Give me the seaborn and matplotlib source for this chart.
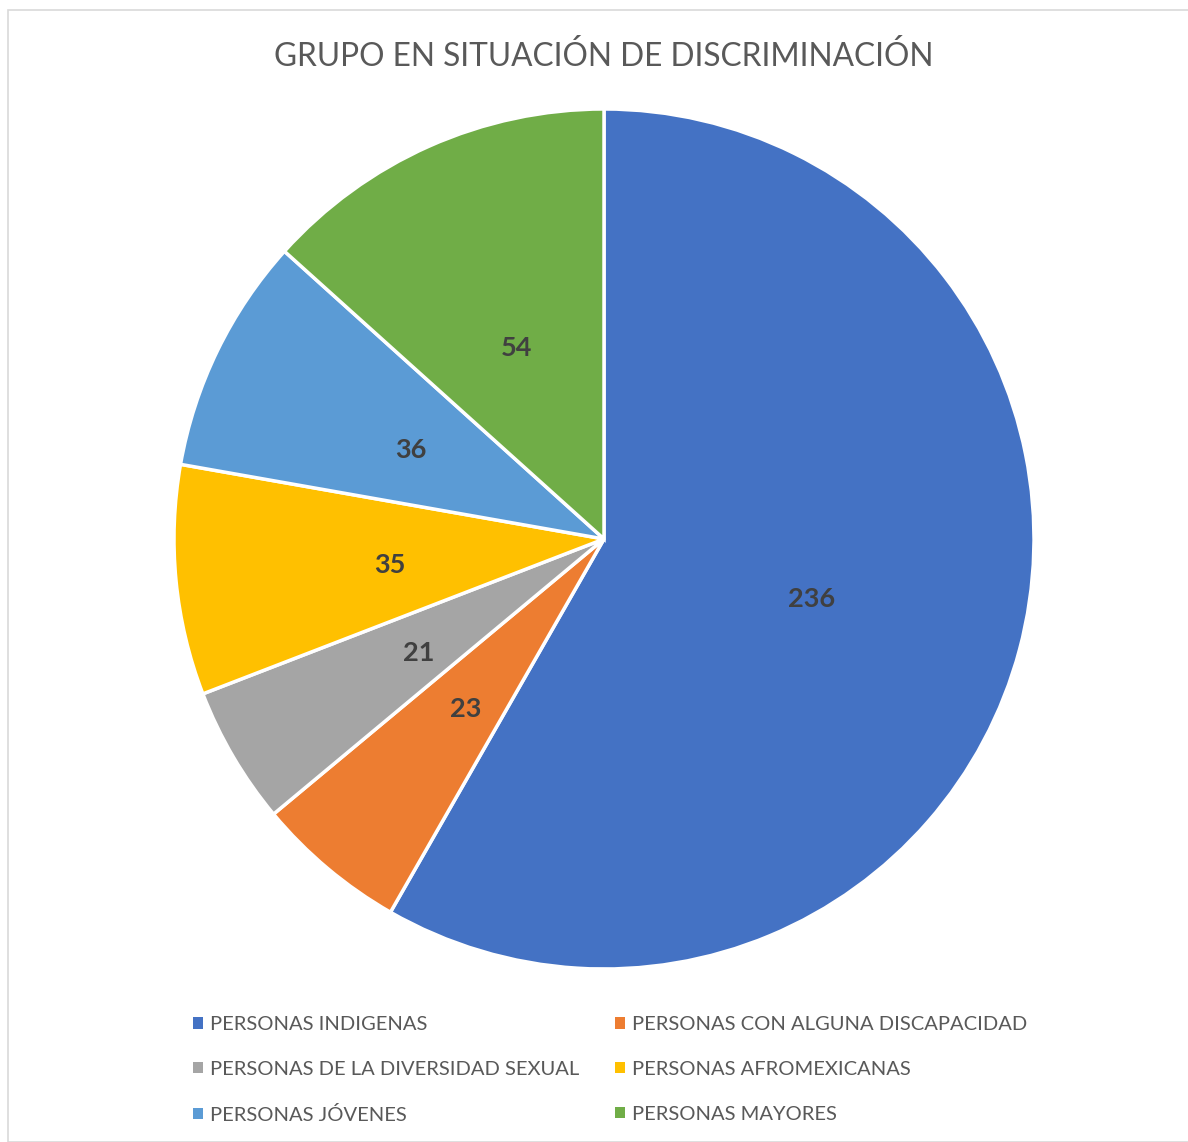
import matplotlib
matplotlib.use("Agg")
import matplotlib.pyplot as plt
import seaborn as sns
from matplotlib.patches import Rectangle, Patch
from matplotlib.transforms import offset_copy

categories = ["PERSONAS INDIGENAS", "PERSONAS CON ALGUNA DISCAPACIDAD",
              "PERSONAS DE LA DIVERSIDAD SEXUAL", "PERSONAS AFROMEXICANAS",
              "PERSONAS JÓVENES", "PERSONAS MAYORES"]
values = [236, 23, 21, 35, 36, 54]
colors = ["#4472C4", "#ED7D31", "#A5A5A5", "#FFC000", "#5B9BD5", "#70AD47"]
title = "GRUPO EN SITUACIÓN DE DISCRIMINACIÓN"

sns.set_theme(style="white")
plt.rcParams['font.family'] = ['Lato', 'DejaVu Sans']

W, H = 1188, 1142
fig = plt.figure(figsize=(W/100, H/100), dpi=100)
fig.patch.set_facecolor("white")

# chart frame
fig.add_artist(Rectangle((8/W, 0), 1.2, 1 - 10/H, transform=fig.transFigure,
                         fill=False, edgecolor="#D9D9D9", linewidth=1.2))

cx, cy, r = 604, 539, 430
ax = fig.add_axes([(cx - r)/W, (H - cy - r)/H, 2*r/W, 2*r/H])
wedges, texts = ax.pie(values, colors=colors, startangle=90, counterclock=False,
                       radius=1, wedgeprops=dict(edgecolor="white", linewidth=2.5),
                       labels=[str(v) for v in values], labeldistance=0.5,
                       textprops=dict(fontsize=19.5, fontweight="bold", color="#404040",
                                      ha="center", va="center_baseline"))
for t in texts:
    t.set_transform(offset_copy(t.get_transform(), fig=fig, x=0, y=-3, units="dots"))
ax.set_xlim(-1, 1)
ax.set_ylim(-1, 1)
ax.set_aspect("equal")
ax.axis("off")

fig.text(604/W, 1 - 56/H, title, ha="center", va="center", fontsize=22.8, color="#595959")

handles = [Patch(facecolor=c, edgecolor="none") for c in colors]
order = [0, 2, 4, 1, 3, 5]
fig.legend([handles[i] for i in order], [categories[i] for i in order],
           ncol=2, loc="upper left", bbox_to_anchor=(175/W, 1 - 998/H),
           frameon=False, fontsize=14.5, labelcolor="#595959",
           handlelength=0.5, handleheight=0.5, handletextpad=0.35,
           columnspacing=1.75, labelspacing=1.375)

fig.savefig("out.png", dpi=100, facecolor="white")
